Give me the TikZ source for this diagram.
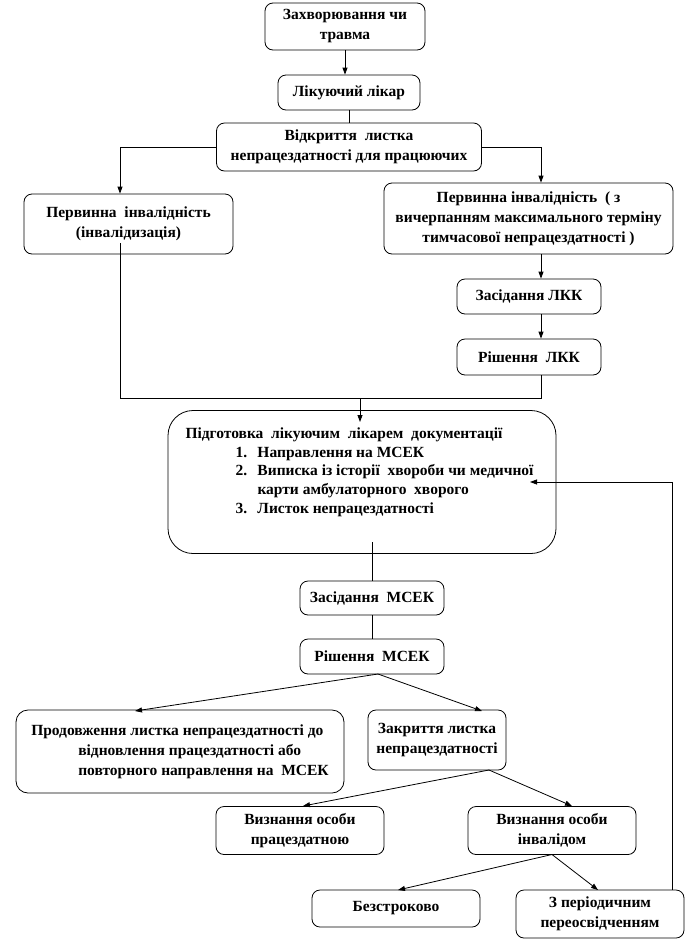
\documentclass[tikz,border=0pt]{standalone}
\usepackage{fontspec}
\setmainfont{Liberation Serif}
\usetikzlibrary{arrows.meta}
\begin{document}
\begin{tikzpicture}[x=1pt,y=-1pt,
  box/.style={draw, rounded corners=8pt, line width=0.8pt, align=center, inner sep=2pt,
    font=\bfseries\fontsize{15.5}{20}\selectfont},
  ln/.style={line width=0.8pt},
  arr/.style={line width=0.8pt, -{Triangle[length=7pt,width=5pt]}}]
\useasboundingbox (0,0) rectangle (687,951);

\node[box, minimum width=160pt, minimum height=47pt] (b1) at (345,26.5) {Захворювання чи\\травма};
\node[box, minimum width=142pt, minimum height=35pt] (b2) at (349,92.5) {Лікуючий лікар};
\node[box, minimum width=265pt, minimum height=48pt] (b3) at (349,147) {Відкриття\ \ листка\\непрацездатності для працюючих};
\node[box, minimum width=209pt, minimum height=60pt] (b4) at (128.5,224) {Первинна\ \ інвалідність\\(інвалідизація)};
\node[box, minimum width=289pt, minimum height=71pt] (b5) at (528.5,218.5) {Первинна інвалідність\ \ ( з\\вичерпанням максимального терміну\\тимчасової непрацездатності )};
\node[box, minimum width=144pt, minimum height=35pt] (b6) at (529,296.5) {Засідання ЛКК};
\node[box, minimum width=144pt, minimum height=36pt] (b7) at (529,357) {Рішення\ \ ЛКК};

\node[box, rounded corners=25pt, minimum width=388pt, minimum height=143pt, align=left] (b8) at (362,482)
 {\parbox[c][137pt][t]{383pt}{\fontsize{15.5}{18.75}\selectfont\raggedright\vspace*{14pt}%
  \hspace*{15pt}Підготовка\ \ лікуючим\ \ лікарем\ \ документації\\
  \hspace*{65pt}\makebox[22pt][l]{1.}Направлення на МСЕК\\
  \hspace*{65pt}\makebox[22pt][l]{2.}Виписка із історії\ \ хвороби чи медичної\\
  \hspace*{87pt}карти амбулаторного\ \ хворого\\
  \hspace*{65pt}\makebox[22pt][l]{3.}Листок непрацездатності}};

\node[box, minimum width=144pt, minimum height=34pt] (b9) at (372,598) {Засідання\ \ МСЕК};
\node[box, minimum width=144pt, minimum height=35pt] (b10) at (372,656.5) {Рішення\ \ МСЕК};
\node[box, rounded corners=12pt, minimum width=328pt, minimum height=83pt, align=left] (b11) at (180,751.5)
 {Продовження листка непрацездатності до\\\hspace*{47pt}відновлення працездатності або\\\hspace*{47pt}повторного направлення на\ \ МСЕК};
\node[box, minimum width=138pt, minimum height=60pt] (b12) at (437,740) {Закриття листка\\непрацездатності};
\node[box, minimum width=168pt, minimum height=48pt] (b13) at (300,830.5) {Визнання особи\\працездатною};
\node[box, minimum width=168pt, minimum height=48pt] (b14) at (552,830.5) {Визнання особи\\інвалідом};
\node[box, minimum width=168pt, minimum height=37pt] (b15) at (396,908.5) {Безстроково};
\node[box, minimum width=168pt, minimum height=48pt] (b16) at (600,914) {З періодичним\\переосвідченням};

% helper points
\coordinate (j4) at (120,243);
\coordinate (jm) at (360,398);
\coordinate (t8) at (360,422);
\coordinate (j8) at (372,542);
\coordinate (f8) at (530,482);
\coordinate (s10) at (378,674);
\coordinate (s12) at (489,770);
\coordinate (s14) at (552,854.5);
\coordinate (fb) at (672,889.5);

\draw[arr] (b1.south) -- (b1.south |- b2.north);
\draw[ln] (b2.south) -- (b2.south |- b3.north);
\draw[arr] (b3.west) -| (j4 |- b4.north);
\draw[arr] (b3.east) -| (541,0 |- b5.north);
\draw[arr] (541,0 |- b5.south) -- (541,0 |- b6.north);
\draw[arr] (541,0 |- b6.south) -- (541,0 |- b7.north);
\draw[ln] (j4) -- (j4 |- jm) -- (jm -| 541,0) -- (541,0 |- b7.south);
\draw[arr] (jm) -- (t8);
\draw[ln] (j8) -- (j8 |- b9.north);
\draw[ln] (j8 |- b9.south) -- (j8 |- b10.north);
\draw[arr] (s10) -- (135,711);
\draw[arr] (s10) -- (482,711);
\draw[arr] (s12) -- (303,806);
\draw[arr] (s12) -- (572,806);
\draw[arr] (s14) -- (398,890);
\draw[arr] (s14) -- (598,890);
\draw[arr] (fb) -- (fb |- f8) -- (f8);
\end{tikzpicture}
\end{document}
